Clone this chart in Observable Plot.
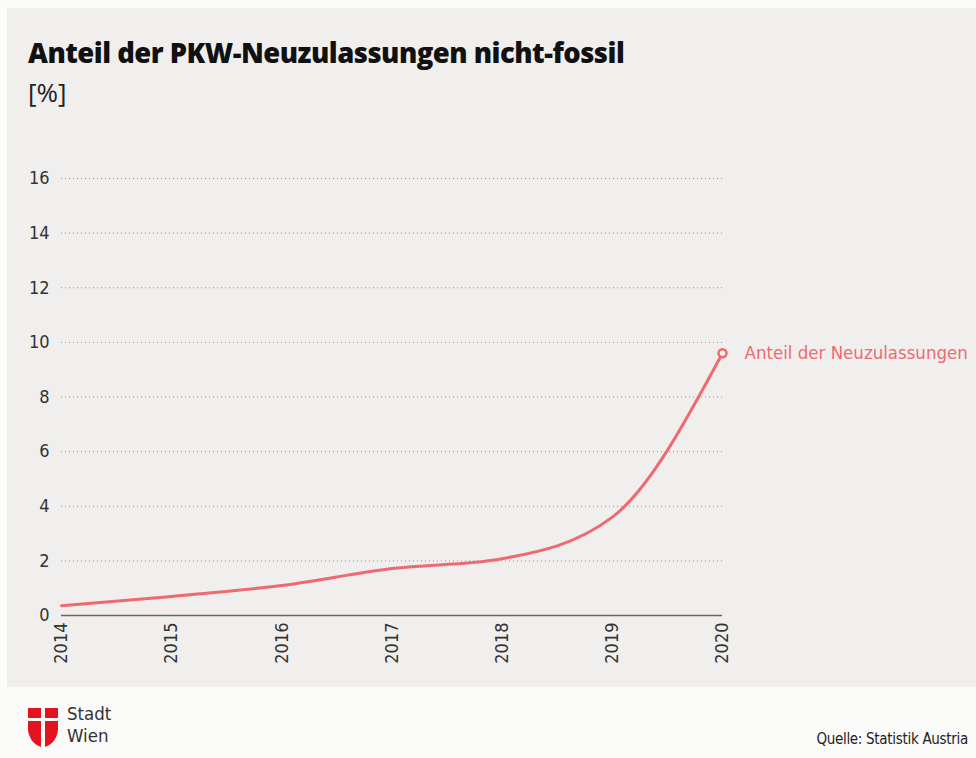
<!DOCTYPE html>
<html>
<head>
<meta charset="utf-8">
<script src="https://cdn.jsdelivr.net/npm/d3@7"></script>
<script src="https://cdn.jsdelivr.net/npm/@observablehq/plot@0.6"></script>
<style>
  html, body { margin: 0; padding: 0; }
  body { width: 976px; height: 758px; background: #fbfbfa; position: relative; overflow: hidden; font-family: "DejaVu Sans Condensed", "Open Sans", sans-serif; }
  #panel { position: absolute; left: 7px; top: 8px; width: 969px; height: 679px; background: #f0efee; }
  #title { position: absolute; left: 21px; top: 26px; font-family: "Open Sans", sans-serif; font-weight: 800; font-size: 27.4px; color: #111; letter-spacing: -0.5px; white-space: nowrap; }
  #unit { position: absolute; left: 21px; top: 66px; font-family: "Open Sans", sans-serif; font-size: 26px; color: #222; }
  #chart { position: absolute; left: 0; top: 112px; }
  #chart svg { overflow: visible; }
  #logo { position: absolute; left: 28px; top: 708px; }
  .lt { position: absolute; left: 67px; font-family: "DejaVu Sans Condensed", sans-serif; font-size: 18.5px; color: #333; line-height: 21px; }
  #source { position: absolute; right: 8px; top: 730px; font-family: "DejaVu Sans Condensed", sans-serif; font-size: 15px; color: #222; letter-spacing: -0.3px; }
</style>
</head>
<body>
<div id="panel">
  <div id="title">Anteil der PKW-Neuzulassungen nicht-fossil</div>
  <div id="unit">[%]</div>
  <div id="chart"></div>
</div>
<svg id="logo" width="30" height="39" viewBox="0 0 30 39">
  <rect x="0" y="0" width="13" height="10" fill="#e3141f"/>
  <rect x="17" y="0" width="13" height="10" fill="#e3141f"/>
  <path d="M0,13 H13 V39 C5,36 1,30 0,22 Z" fill="#e3141f"/>
  <path d="M17,13 H30 V22 C29,30 25,36 17,39 Z" fill="#e3141f"/>
</svg>
<div class="lt" style="top:703px">Stadt</div>
<div class="lt" style="top:725px">Wien</div>
<div id="source">Quelle: Statistik Austria</div>
<script>
const years = [2014, 2015, 2016, 2017, 2018, 2019, 2020];
const shares = [0.36, 0.7, 1.1, 1.72, 2.08, 3.6, 9.6];
const yTicks = [0, 2, 4, 6, 8, 10, 12, 14, 16];
const seriesLabel = "Anteil der Neuzulassungen";

const data = years.map((y, i) => ({year: y, value: shares[i]}));
const last = data[data.length - 1];
const red = "#ee6a70";
const font = "'DejaVu Sans Condensed', sans-serif";

const chart = Plot.plot({
  width: 969,
  height: 560,
  marginLeft: 54,
  marginRight: 254,
  marginTop: 58,
  marginBottom: 65,
  style: {background: "transparent", fontFamily: font, fontSize: "18px", color: "#333"},
  x: {domain: [2014, 2020], label: null},
  y: {domain: [0, 16], label: null},
  marks: [
    Plot.gridY(yTicks.filter(d => d > 0), {stroke: "#8a8a8a", strokeOpacity: 0.9, strokeWidth: 1, strokeDasharray: "1,3"}),
    Plot.ruleY([0], {stroke: "#666", strokeWidth: 1.5}),
    Plot.axisX({ticks: years, tickFormat: d => String(d), tickRotate: -90, tickSize: 0, tickPadding: 7, fontSize: 18, fill: "#333", label: null}),
    Plot.axisY({ticks: yTicks, tickSize: 0, tickPadding: 12, fontSize: 18, fill: "#333", label: null}),
    Plot.line(data, {x: "year", y: "value", stroke: red, strokeWidth: 3, curve: "monotone-x"}),
    Plot.dot([last], {x: "year", y: "value", r: 4, stroke: red, strokeWidth: 2.5, fill: "#f0efee"}),
    Plot.text([last], {x: "year", y: "value", text: () => seriesLabel, dx: 22, textAnchor: "start", fill: red, fontSize: 18.5, fontFamily: font, letterSpacing: -0.35})
  ]
});
document.getElementById("chart").appendChild(chart);
</script>
</body>
</html>
